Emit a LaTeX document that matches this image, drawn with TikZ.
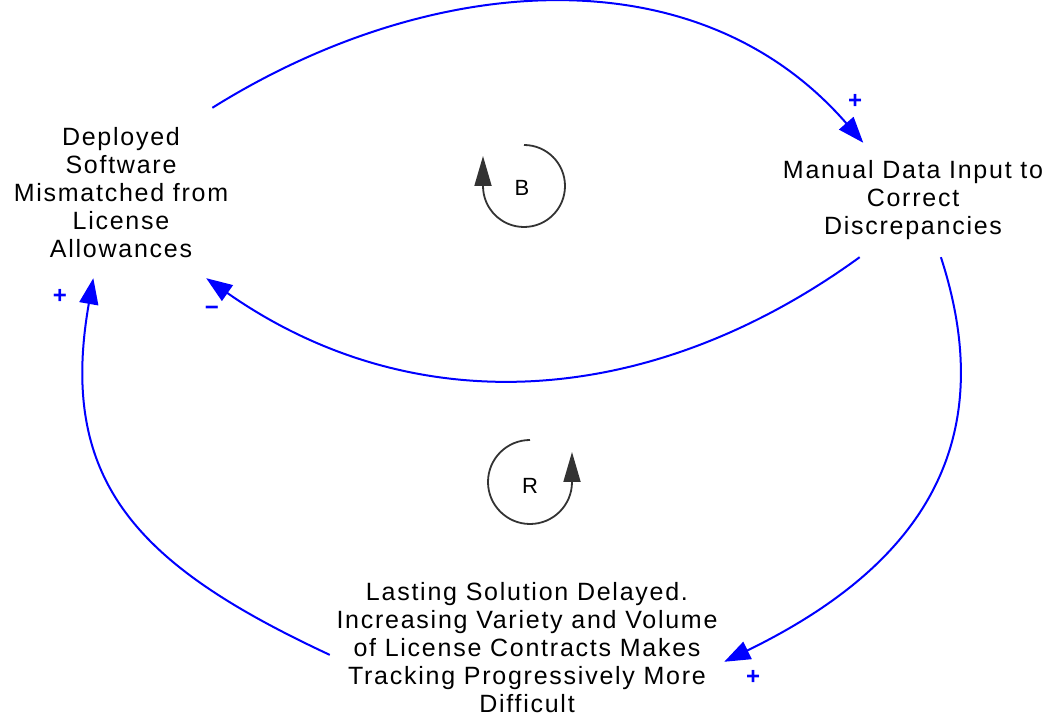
\documentclass[tikz,border=0pt]{standalone}
\usepackage{fontspec}
\setmainfont[LetterSpace=7]{Liberation Sans}
\usetikzlibrary{arrows.meta, positioning}

\tikzset{
  var/.style={align=center, inner sep=0pt, font=\fontsize{25}{28}\selectfont},
  link/.style={draw=blue, line width=2pt, -{Triangle[length=26pt,width=19pt]}},
  sign/.style={text=blue, font=\fontsize{24}{24}\selectfont\bfseries},
  loopline/.style={draw=black!80, line width=1.8pt, -{Triangle[length=30pt,width=17pt]}},
}

\begin{document}
\begin{tikzpicture}[x=1pt, y=1pt]
\useasboundingbox (0,0) rectangle (1052,717);

% Variables
\node[var, minimum width=240, minimum height=170] (mismatch) at (121,524) {Deployed\\Software\\Mismatched from\\License\\Allowances};
\node[var, minimum width=280, minimum height=114] (manual) at (913,517) {Manual Data Input to\\Correct\\Discrepancies};
\node[var, minimum width=394, minimum height=140] (delay) at (527,69) {Lasting Solution Delayed.\\Increasing Variety and Volume\\of License Contracts Makes\\Tracking Progressively More\\Difficult};

% Links
\draw[link] (mismatch.43) to[out=32, in=131] (manual.131);
\draw[link] (manual.-133) to[out=216, in=-35] (mismatch.-45);
\draw[link] (manual.-64) to[out=-72, in=26, looseness=1.15] (delay.-4);
\draw[link] (delay.182) to[out=155, in=-100, looseness=1.2] (mismatch.-108);

% Polarities
\node[sign] (s1) at (855,616) {+};
\node[sign] (s2) at (212,406) {−};
\node[sign] (s3) at (753,40) {+};
\node[sign] (s4) at (60,421) {+};

% Loop markers
\node[font=\fontsize{22}{22}\selectfont] (B) at (522,529) {B};
\draw[loopline] (524,572) arc[start angle=90, end angle=-180, radius=41] -- ++(0,30);
\node[font=\fontsize{22}{22}\selectfont] (R) at (530,231) {R};
\draw[loopline] (530,277) arc[start angle=90, end angle=360, radius=42] -- ++(0,30);
\end{tikzpicture}
\end{document}
